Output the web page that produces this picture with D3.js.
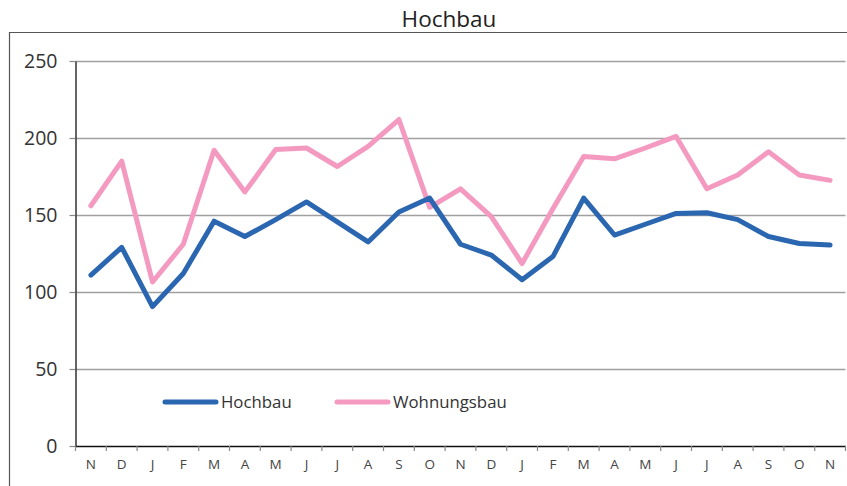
<!DOCTYPE html>
<html>
<head>
<meta charset="utf-8">
<script src="https://cdn.jsdelivr.net/npm/d3@7"></script>
<style>
  body { margin: 0; background: #fff; }
  svg { display: block; font-family: "Open Sans", sans-serif; }
</style>
</head>
<body>
<svg id="chart"></svg>
<script>
const months = ["N","D","J","F","M","A","M","J","J","A","S","O","N","D","J","F","M","A","M","J","J","A","S","O","N"];
const hochbau = [111, 129, 90.5, 112, 146, 136, 147, 158.5, 145.5, 132.5, 152, 161, 131, 124, 108, 123, 161, 137, 144, 151, 151.5, 147, 136, 131.5, 130.5];
const wohnungsbau = [156, 185, 106.5, 131, 192, 165, 192.5, 193.5, 181.5, 194.5, 212, 155, 167, 149, 118.5, 154, 188, 186.5, 193.5, 201, 167, 176, 191, 176, 172.5];
const yTicks = [0, 50, 100, 150, 200, 250];

const svgWidth = 847, svgHeight = 486;
const margin = { top: 61, right: 1.5, bottom: 40, left: 75.5 };
const width = svgWidth - margin.left - margin.right;
const height = svgHeight - margin.top - margin.bottom;

const root = d3.select("#chart")
  .attr("width", svgWidth)
  .attr("height", svgHeight);

// outer frame (top and left edge only visible)
root.append("path")
  .attr("d", `M9.5,${svgHeight + 5} V32.5 H${svgWidth + 5}`)
  .attr("fill", "none")
  .attr("stroke", "#555")
  .attr("stroke-width", 1.2);

root.append("text")
  .attr("x", 449)
  .attr("y", 27)
  .attr("text-anchor", "middle")
  .attr("fill", "#222")
  .style("font-size", "22.5px")
  .text("Hochbau");

const svg = root.append("g")
  .attr("transform", `translate(${margin.left},${margin.top})`);

const xScale = d3.scaleBand()
  .domain(d3.range(months.length))
  .range([0, width]);

const yScale = d3.scaleLinear()
  .domain([0, 250])
  .range([height, 0]);

// gridlines
svg.append("g")
  .attr("class", "grid")
  .call(d3.axisLeft(yScale).tickValues(yTicks.filter(d => d > 0)).tickSize(-width).tickFormat(""))
  .call(g => g.select(".domain").remove())
  .call(g => g.selectAll("line").attr("stroke", "#a0a0a0").attr("stroke-width", 1.4));

// y axis
svg.append("g")
  .call(d3.axisLeft(yScale).tickValues(yTicks).tickSize(6).tickPadding(12).tickSizeOuter(0))
  .call(g => g.select(".domain").attr("stroke", "#111").attr("stroke-width", 1.3))
  .call(g => g.selectAll("line").attr("stroke", "#888").attr("stroke-width", 1.2))
  .call(g => g.selectAll("text").attr("fill", "#333").style("font-size", "19.5px").style("font-family", "Open Sans, sans-serif"));

// x axis
const xAxis = svg.append("g")
  .attr("transform", `translate(0,${height})`)
  .call(d3.axisBottom(xScale).tickFormat(i => months[i]).tickSize(0).tickPadding(13))
  .call(g => g.select(".domain").attr("stroke", "#111").attr("stroke-width", 1.5))
  .call(g => g.selectAll("text").attr("fill", "#444").style("font-size", "13.5px").style("font-family", "Open Sans, sans-serif"));

// boundary ticks between categories
xAxis.selectAll(".bound")
  .data(d3.range(months.length + 1))
  .enter()
  .append("line")
  .attr("class", "bound")
  .attr("x1", i => i * xScale.step())
  .attr("x2", i => i * xScale.step())
  .attr("y1", 0)
  .attr("y2", 5)
  .attr("stroke", "#888")
  .attr("stroke-width", 1.2);

const line = d3.line()
  .x((d, i) => xScale(i) + xScale.bandwidth() / 2)
  .y(d => yScale(d));

svg.append("path")
  .datum(wohnungsbau)
  .attr("fill", "none")
  .attr("stroke", "#f49ac1")
  .attr("stroke-width", 5)
  .attr("stroke-linejoin", "round")
  .attr("stroke-linecap", "round")
  .attr("d", line);

svg.append("path")
  .datum(hochbau)
  .attr("fill", "none")
  .attr("stroke", "#2b66b1")
  .attr("stroke-width", 5)
  .attr("stroke-linejoin", "round")
  .attr("stroke-linecap", "round")
  .attr("d", line);

// legend
const legend = [
  { name: "Hochbau", color: "#2b66b1", x: 165 },
  { name: "Wohnungsbau", color: "#f49ac1", x: 337 }
];
const lg = root.selectAll(".legend")
  .data(legend)
  .enter()
  .append("g")
  .attr("class", "legend")
  .attr("transform", d => `translate(${d.x},402)`);
lg.append("line")
  .attr("x1", 0).attr("x2", 51)
  .attr("stroke", d => d.color)
  .attr("stroke-width", 5)
  .attr("stroke-linecap", "round");
lg.append("text")
  .attr("x", 56)
  .attr("y", 6)
  .attr("fill", "#333")
  .style("font-size", "16.8px")
  .text(d => d.name);
</script>
</body>
</html>
